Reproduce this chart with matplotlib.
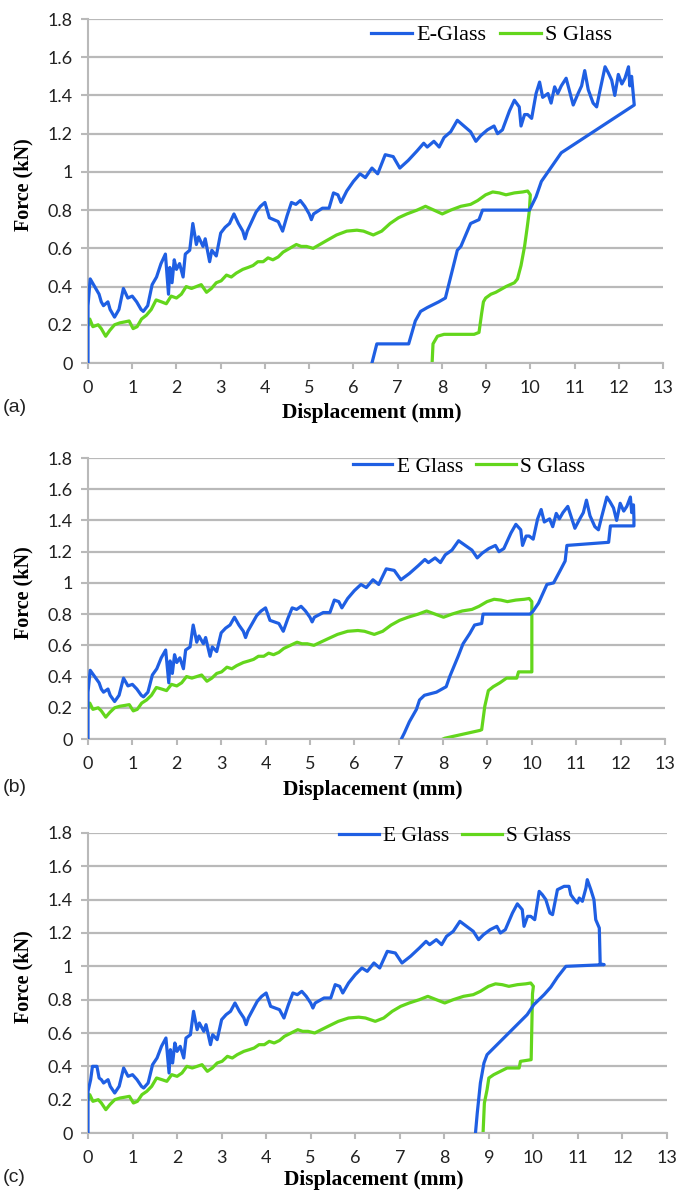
import matplotlib
matplotlib.use("Agg")
import matplotlib.pyplot as plt

W, H = 678, 1195

# ---------------- data ----------------
x_ticks = list(range(0, 14))
y_ticks = [0, 0.2, 0.4, 0.6, 0.8, 1, 1.2, 1.4, 1.6, 1.8]
y_tick_labels = ["0", "0.2", "0.4", "0.6", "0.8", "1", "1.2", "1.4", "1.6", "1.8"]
panel_tags = ["(a)", "(b)", "(c)"]
legend_e = ["E-Glass", "E Glass", "E Glass"]
legend_s = "S Glass"

# blue (E glass) initial rise, panels a/b and panel c
blue_start_ab_x = [0, 0, 0.05, 0.15, 0.25]
blue_start_ab_y = [0, 0.30, 0.44, 0.40, 0.36]
blue_start_c_x = [0, 0, 0.06, 0.10, 0.20, 0.25]
blue_start_c_y = [0, 0.25, 0.32, 0.40, 0.40, 0.33]

# blue loading curve (common)
blue_load_x = [0.30, 0.35, 0.45, 0.50, 0.60, 0.70, 0.80, 0.90, 1.00, 1.10, 1.20, 1.25, 1.35,
               1.45, 1.55, 1.65, 1.75, 1.82, 1.85, 1.90, 1.95, 2.00, 2.07, 2.15, 2.20, 2.30,
               2.37, 2.45, 2.50, 2.60, 2.65, 2.75, 2.80, 2.90, 3.00, 3.10, 3.20, 3.30, 3.40,
               3.50, 3.55, 3.60, 3.70, 3.80, 3.90, 4.00, 4.10, 4.20, 4.30, 4.40, 4.50, 4.60,
               4.70, 4.80, 4.90, 5.00, 5.05, 5.10, 5.30, 5.45, 5.55, 5.65, 5.72, 5.85, 6.00,
               6.15, 6.27, 6.42, 6.55, 6.72, 6.90, 7.05, 7.24, 7.44, 7.59, 7.67, 7.82, 7.94,
               8.05, 8.20, 8.35, 8.50, 8.65, 8.77, 8.88, 9.03, 9.18, 9.26, 9.37, 9.53, 9.64,
               9.75, 9.79, 9.87, 9.94, 10.03]
blue_load_y = [0.32, 0.30, 0.32, 0.28, 0.24, 0.28, 0.39, 0.34, 0.35, 0.32, 0.28, 0.27, 0.30,
               0.41, 0.45, 0.52, 0.57, 0.36, 0.50, 0.42, 0.54, 0.49, 0.52, 0.45, 0.57, 0.59,
               0.73, 0.62, 0.66, 0.61, 0.65, 0.53, 0.59, 0.56, 0.68, 0.71, 0.73, 0.78, 0.73,
               0.69, 0.65, 0.69, 0.74, 0.79, 0.82, 0.84, 0.76, 0.75, 0.74, 0.69, 0.77, 0.84,
               0.83, 0.85, 0.82, 0.78, 0.75, 0.78, 0.81, 0.81, 0.89, 0.88, 0.84, 0.90, 0.95,
               0.99, 0.97, 1.02, 0.99, 1.09, 1.08, 1.02, 1.06, 1.11, 1.15, 1.13, 1.16, 1.13,
               1.18, 1.21, 1.27, 1.24, 1.21, 1.16, 1.19, 1.22, 1.24, 1.20, 1.22, 1.32, 1.375,
               1.34, 1.24, 1.30, 1.30, 1.28]
# blue loading continuation beyond x=10 (panels a/b)
blue_top_x = [10.13, 10.21, 10.28, 10.40, 10.47, 10.55, 10.62, 10.70, 10.81, 10.89, 10.97,
              11.08, 11.16, 11.23, 11.31, 11.42, 11.50, 11.57, 11.69, 11.76, 11.84, 11.91,
              11.99, 12.07, 12.14, 12.22, 12.25, 12.29]
blue_top_y = [1.41, 1.47, 1.39, 1.41, 1.36, 1.445, 1.41, 1.45, 1.49, 1.42, 1.35,
              1.41, 1.45, 1.53, 1.43, 1.36, 1.34, 1.42, 1.55, 1.52, 1.48, 1.40,
              1.51, 1.46, 1.49, 1.55, 1.45, 1.50]

# blue unloading, panel a
blue_unload_a_x = [12.35, 10.70, 10.55, 10.40, 10.25, 10.13, 9.98, 8.92, 8.84, 8.65, 8.43,
                   8.35, 8.08, 7.93, 7.67, 7.52, 7.40, 7.25, 6.53, 6.42]
blue_unload_a_y = [1.35, 1.10, 1.05, 1.00, 0.95, 0.87, 0.80, 0.80, 0.75, 0.73, 0.61,
                   0.59, 0.34, 0.32, 0.29, 0.27, 0.22, 0.10, 0.10, 0.0]
# blue unloading, panel b
blue_unload_b_x = [12.30, 12.30, 11.77, 11.73, 10.79, 10.75, 10.64, 10.49, 10.34, 10.26,
                   10.15, 10.03, 9.96, 8.90, 8.87, 8.71, 8.60, 8.45, 8.34, 8.15, 8.07,
                   7.85, 7.58, 7.47, 7.40, 7.24, 7.13, 7.06]
blue_unload_b_y = [1.41, 1.365, 1.365, 1.26, 1.24, 1.14, 1.08, 1.00, 0.99, 0.94,
                   0.87, 0.82, 0.80, 0.80, 0.74, 0.73, 0.675, 0.61, 0.53, 0.40, 0.335,
                   0.30, 0.28, 0.25, 0.19, 0.11, 0.04, 0.0]
# blue tail + unloading, panel c
blue_tail_c_x = [10.13, 10.20, 10.28, 10.37, 10.43, 10.54, 10.69, 10.80, 10.84, 10.92,
                 10.99, 11.03, 11.10, 11.18, 11.21, 11.29, 11.36, 11.40, 11.48, 11.50,
                 11.59, 10.73, 10.54, 10.39, 10.24, 10.01, 9.86, 9.56, 9.30, 8.96, 8.89,
                 8.81, 8.74, 8.70]
blue_tail_c_y = [1.45, 1.43, 1.40, 1.32, 1.31, 1.46, 1.48, 1.48, 1.43, 1.40,
                 1.38, 1.41, 1.39, 1.47, 1.52, 1.46, 1.40, 1.28, 1.23, 1.015,
                 1.01, 1.00, 0.935, 0.875, 0.83, 0.77, 0.71, 0.63, 0.56, 0.47, 0.42,
                 0.30, 0.12, 0.0]

# green (S glass) loading curve (common)
green_load_x = [0, 0.04, 0.11, 0.23, 0.30, 0.40, 0.49, 0.60, 0.72, 0.83, 0.93, 1.02, 1.11,
                1.21, 1.32, 1.43, 1.54, 1.66, 1.77, 1.88, 2.00, 2.11, 2.22, 2.34, 2.45,
                2.56, 2.68, 2.79, 2.90, 3.01, 3.13, 3.24, 3.35, 3.50, 3.62, 3.73, 3.84,
                3.96, 4.07, 4.18, 4.30, 4.41, 4.56, 4.71, 4.82, 4.94, 5.09, 5.24, 5.39,
                5.62, 5.85, 6.08, 6.23, 6.45, 6.64, 6.83, 7.02, 7.21, 7.44, 7.63, 7.82,
                8.01, 8.20, 8.43, 8.65, 8.81, 8.99, 9.15, 9.30, 9.45, 9.64, 9.83, 9.94, 10.0]
green_load_y = [0.20, 0.23, 0.19, 0.20, 0.18, 0.14, 0.17, 0.20, 0.21, 0.215, 0.22, 0.18, 0.19,
                0.23, 0.25, 0.28, 0.33, 0.32, 0.31, 0.35, 0.34, 0.36, 0.40, 0.39, 0.40,
                0.41, 0.37, 0.39, 0.42, 0.43, 0.46, 0.45, 0.47, 0.49, 0.50, 0.51, 0.53,
                0.53, 0.55, 0.54, 0.555, 0.58, 0.60, 0.62, 0.61, 0.61, 0.60, 0.62, 0.64,
                0.67, 0.69, 0.695, 0.69, 0.67, 0.69, 0.73, 0.76, 0.78, 0.80, 0.82, 0.80,
                0.78, 0.80, 0.82, 0.83, 0.85, 0.88, 0.895, 0.89, 0.88, 0.89, 0.895, 0.90, 0.88]
# green unloading per panel
green_unload_a_x = [9.98, 9.93, 9.87, 9.79, 9.71, 9.64, 9.45, 9.22, 9.11, 8.99, 8.94, 8.90,
                    8.84, 8.73, 8.05, 7.90, 7.80, 7.78]
green_unload_a_y = [0.80, 0.71, 0.61, 0.51, 0.44, 0.42, 0.40, 0.37, 0.36, 0.34, 0.32, 0.26,
                    0.16, 0.15, 0.15, 0.14, 0.10, 0.0]
green_unload_b_x = [10.0, 9.70, 9.66, 9.43, 9.28, 9.13, 9.02, 8.94, 8.87, 8.83, 8.04, 8.0]
green_unload_b_y = [0.43, 0.43, 0.39, 0.39, 0.36, 0.335, 0.31, 0.21, 0.06, 0.055, 0.005, 0.0]
green_unload_c_x = [9.98, 9.95, 9.71, 9.68, 9.41, 9.26, 9.11, 9.00, 8.96, 8.90, 8.87]
green_unload_c_y = [0.835, 0.44, 0.43, 0.39, 0.39, 0.37, 0.35, 0.33, 0.26, 0.18, 0.0]

# ---------------- build series ----------------
blue_a_x = blue_start_ab_x + blue_load_x + blue_top_x + blue_unload_a_x
blue_a_y = blue_start_ab_y + blue_load_y + blue_top_y + blue_unload_a_y
blue_b_x = blue_start_ab_x + blue_load_x + blue_top_x + blue_unload_b_x
blue_b_y = blue_start_ab_y + blue_load_y + blue_top_y + blue_unload_b_y
blue_c_x = blue_start_c_x + blue_load_x + blue_tail_c_x
blue_c_y = blue_start_c_y + blue_load_y + blue_tail_c_y
green_a_x = green_load_x + green_unload_a_x
green_a_y = green_load_y + green_unload_a_y
green_b_x = green_load_x + green_unload_b_x
green_b_y = green_load_y + green_unload_b_y
green_c_x = green_load_x + green_unload_c_x
green_c_y = green_load_y + green_unload_c_y

series = [
    (blue_a_x, blue_a_y, green_a_x, green_a_y),
    (blue_b_x, blue_b_y, green_b_x, green_b_y),
    (blue_c_x, blue_c_y, green_c_x, green_c_y),
]

# ---------------- layout (pixels) ----------------
boxes = [(88, 663, 19, 363), (88, 665, 458, 739), (88, 667, 833, 1133)]
legend_centers = [(0.702, 0.953), (0.660, 0.968), (0.634, 0.99)]
legend_sizes = [16, 15.5, 15.5]
tag_y = [408, 788, 1178]
xlabel_y = [413, 790, 1180]

BLUE = "#1f5fe3"
GREEN = "#63d61c"
GRID = "#b9b9b9"

fig = plt.figure(figsize=(W / 100, H / 100), dpi=100)

for i, (l, r, t, b) in enumerate(boxes):
    ax = fig.add_axes([l / W, 1 - b / H, (r - l) / W, (b - t) / H])
    ax.set_xlim(0, 13)
    ax.set_ylim(0, 1.8)
    ax.set_xticks(x_ticks)
    ax.set_xticklabels([str(v) for v in x_ticks])
    ax.set_yticks(y_ticks)
    ax.set_yticklabels(y_tick_labels)
    for s in ["top", "right"]:
        ax.spines[s].set_visible(False)
    for s in ["left", "bottom"]:
        ax.spines[s].set_color(GRID)
        ax.spines[s].set_linewidth(1.5)
    ax.grid(axis="y", color=GRID, linewidth=1.6, zorder=0)
    ax.set_axisbelow(True)
    ax.tick_params(axis="x", direction="out", length=4, width=1.5, color=GRID,
                   pad=8, labelsize=13, labelcolor="#222222")
    ax.tick_params(axis="y", direction="out", length=5, width=1.5, color=GRID,
                   pad=6, labelsize=13, labelcolor="#222222")
    for lab in ax.get_xticklabels() + ax.get_yticklabels():
        lab.set_fontfamily("Lato")

    bx, by, gx, gy = series[i]
    ax.plot(bx, by, color=BLUE, linewidth=2.3, label=legend_e[i], zorder=3,
            solid_joinstyle="round")
    ax.plot(gx, gy, color=GREEN, linewidth=2.3, label=legend_s, zorder=2,
            solid_joinstyle="round")

    ax.legend(loc="center", bbox_to_anchor=legend_centers[i], ncol=2,
              frameon=False, handlelength=1.85, handletextpad=0.2,
              columnspacing=0.6, borderpad=0.1,
              prop={"family": "Liberation Serif", "size": legend_sizes[i]})

    fig.text(23 / W, 1 - ((t + b) / 2 - 6) / H, "Force (kN)", rotation=90,
             ha="center", va="center", fontsize=14.5, fontweight="bold",
             family="Liberation Serif")
    fig.text(((l + r) / 2 - 4) / W, 1 - xlabel_y[i] / H, "Displacement (mm)",
             ha="center", va="center", fontsize=15.5, fontweight="bold",
             family="Liberation Serif")
    fig.text(3 / W, 1 - tag_y[i] / H, panel_tags[i], ha="left", va="center",
             fontsize=14, family="Liberation Sans", color="#222222")

fig.savefig("out.png", dpi=100)
